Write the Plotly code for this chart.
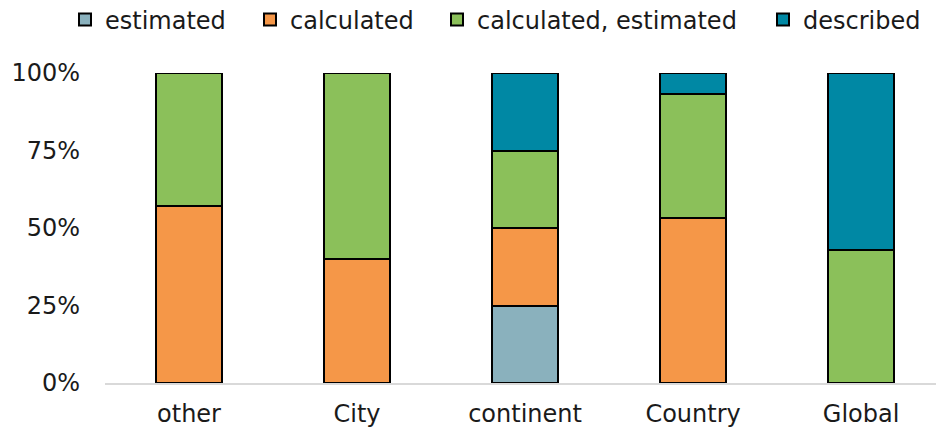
import plotly.graph_objects as go

categories = ["other", "City", "continent", "Country", "Global"]
estimated = [0.0, 0.0, 0.25, 0.0, 0.0]
calculated = [4/7, 0.40, 0.25, 8/15, 0.0]
calc_est = [3/7, 0.60, 0.25, 6/15, 3/7]
described = [0.0, 0.0, 0.25, 1/15, 4/7]
tick_vals = [0, 0.25, 0.5, 0.75, 1.0]
tick_text = ["0%", "25%", "50%", "75%", "100%"]

series = [
    ("estimated", estimated, "#8AB1BD", "legend"),
    ("calculated", calculated, "#F59748", "legend2"),
    ("calculated, estimated", calc_est, "#8BC05A", "legend3"),
    ("described", described, "#0088A4", "legend4"),
]
legend_x = [65, 250, 437, 763]

fig = go.Figure()
for name, vals, col, lg in series:
    fig.add_trace(go.Bar(
        x=categories, y=vals, name=name, width=0.39, legend=lg,
        marker=dict(color=col, line=dict(color="#000000", width=2)),
    ))

font = "Verdana, DejaVu Sans, sans-serif"
legend_common = dict(orientation="h", xanchor="left", y=1.171, yanchor="middle",
                     xref="container", font=dict(size=24), itemwidth=30,
                     bgcolor="rgba(0,0,0,0)")
layout_legends = {}
for s, lx in zip(series, legend_x):
    layout_legends[s[3]] = dict(legend_common, x=lx / 936)

fig.update_layout(
    barmode="stack",
    width=936, height=430,
    margin=dict(l=105, r=0, t=73, b=47, autoexpand=False),
    paper_bgcolor="white", plot_bgcolor="white",
    font=dict(family=font, size=24, color="#1a1a1a"),
    showlegend=True,
    xaxis=dict(range=[-0.5, 4.446], showline=True, linecolor="#D9D9D9", linewidth=1.5,
               ticks="", showgrid=False, tickfont=dict(size=24), ticklabelstandoff=8,
               automargin=False),
    yaxis=dict(range=[0, 1], tickvals=tick_vals, ticktext=tick_text, showgrid=False,
               zeroline=False, showline=False, ticks="", ticklabelstandoff=24,
               tickfont=dict(size=24), automargin=False),
    **layout_legends,
)
fig.write_html("out.html")
